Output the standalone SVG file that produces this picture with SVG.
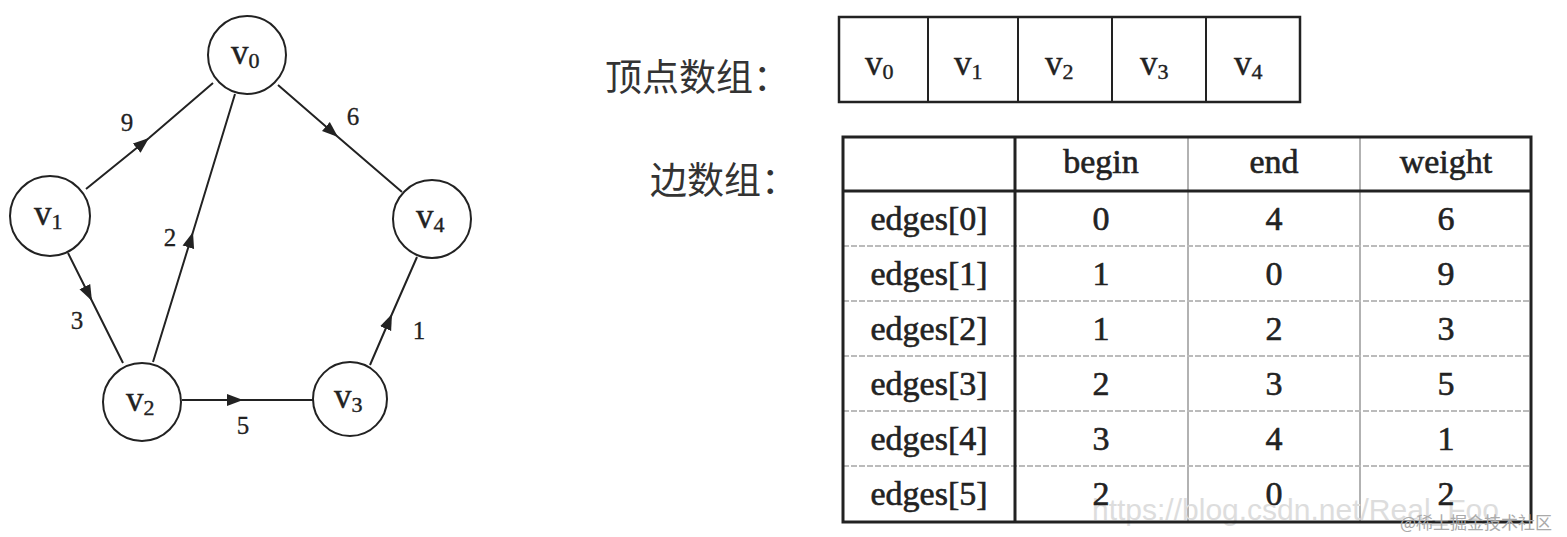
<svg xmlns="http://www.w3.org/2000/svg" width="1567" height="537" viewBox="0 0 1567 537">
<style>
.node circle{fill:#fff;stroke:#222;stroke-width:2}
.vt{font-family:"Liberation Serif","DejaVu Serif",serif;font-size:35px;fill:#222;stroke:#222;stroke-width:0.4}
.sub{font-size:22px}
.edge{fill:none;stroke:#222;stroke-width:2;marker-mid:url(#arr)}
.el{font-family:"Liberation Serif","DejaVu Serif",serif;font-size:25px;fill:#222;text-anchor:middle;stroke:#222;stroke-width:0.3}
.cn{font-family:"Noto Sans CJK SC","Noto Sans",sans-serif;font-size:37px;fill:#333}
.tt{font-family:"Liberation Serif","DejaVu Serif",serif;font-size:34px;fill:#222;text-anchor:middle;stroke:#222;stroke-width:0.6}
.thick{stroke:#222;stroke-width:3;fill:none}
.thin{stroke:#999;stroke-width:1.5;fill:none}
.faint{stroke:#bbb;stroke-width:2;stroke-dasharray:6 2;fill:none}
.wm1{font-family:"Liberation Sans",sans-serif;font-size:30px;fill:#ddd}
.wm2{font-family:"Noto Sans CJK SC",sans-serif;font-size:17px;fill:#aaa}
</style>
<defs>
<marker id="arr" markerUnits="userSpaceOnUse" markerWidth="18" markerHeight="14" viewBox="-16 -7 18 14" refX="0" refY="0" orient="auto">
<path d="M0,0 L-16,-6 L-16,6 z" fill="#222"/>
</marker>
</defs>
<rect width="1567" height="537" fill="#fff"/>
<g id="connectors">
<path class="edge" d="M86,189 L149,138 L213,83"/>
<path class="edge" d="M278,85 L338,137 L402,192"/>
<path class="edge" d="M153,362 L193,232 L235,94"/>
<path class="edge" d="M68,253 L92,301 L123,363"/>
<path class="edge" d="M182,400 L243,400 L313,400"/>
<path class="edge" d="M370,365 L392,314 L417,257"/>
<text class="el" x="127" y="131">9</text>
<text class="el" x="353" y="125">6</text>
<text class="el" x="170" y="246">2</text>
<text class="el" x="77" y="329">3</text>
<text class="el" x="243" y="434">5</text>
<text class="el" x="419" y="339">1</text>
</g>
<g id="v0" class="node"><circle cx="247" cy="55" r="39"/><text class="vt" x="231" y="64">v<tspan class="sub" dy="4">0</tspan></text></g>
<g id="v1" class="node"><circle cx="50" cy="216" r="40"/><text class="vt" x="34" y="225">v<tspan class="sub" dy="4">1</tspan></text></g>
<g id="v2" class="node"><circle cx="142" cy="402" r="39"/><text class="vt" x="126" y="411">v<tspan class="sub" dy="4">2</tspan></text></g>
<g id="v3" class="node"><circle cx="350" cy="399" r="37"/><text class="vt" x="334" y="408">v<tspan class="sub" dy="4">3</tspan></text></g>
<g id="v4" class="node"><circle cx="432" cy="219" r="39"/><text class="vt" x="416" y="228">v<tspan class="sub" dy="4">4</tspan></text></g>
<g id="vertex-array">
<text class="cn" x="605" y="91">顶点数组：</text>
<rect x="839" y="17" width="461" height="85" fill="none" stroke="#222" stroke-width="2.5"/>
<line class="thick" x1="928" y1="17" x2="928" y2="102" style="stroke-width:2"/>
<line class="thick" x1="1018" y1="17" x2="1018" y2="102" style="stroke-width:2"/>
<line class="thick" x1="1112" y1="17" x2="1112" y2="102" style="stroke-width:2"/>
<line class="thick" x1="1206" y1="17" x2="1206" y2="102" style="stroke-width:2"/>
<text class="vt" x="865" y="75">v<tspan class="sub" dy="4">0</tspan></text>
<text class="vt" x="954" y="75">v<tspan class="sub" dy="4">1</tspan></text>
<text class="vt" x="1045" y="75">v<tspan class="sub" dy="4">2</tspan></text>
<text class="vt" x="1140" y="75">v<tspan class="sub" dy="4">3</tspan></text>
<text class="vt" x="1234" y="75">v<tspan class="sub" dy="4">4</tspan></text>
</g>
<g id="edge-array">
<text class="cn" x="650" y="194">边数组：</text>
<line class="thin" x1="1188" y1="137" x2="1188" y2="522"/>
<line class="thin" x1="1360" y1="137" x2="1360" y2="522"/>
<line class="faint" x1="843" y1="246" x2="1530" y2="246"/>
<line class="faint" x1="843" y1="301" x2="1530" y2="301"/>
<line class="faint" x1="843" y1="356" x2="1530" y2="356"/>
<line class="faint" x1="843" y1="411" x2="1530" y2="411"/>
<line class="faint" x1="843" y1="466" x2="1530" y2="466"/>
<text class="wm1" x="1092" y="520">https://blog.csdn.net/Real_Foo</text>
<rect class="thick" x="843" y="137" width="688" height="385"/>
<line class="thick" x1="843" y1="191" x2="1531" y2="191"/>
<line class="thick" x1="1015" y1="137" x2="1015" y2="522"/>
<text class="tt" x="1101" y="173">begin</text>
<text class="tt" x="1274" y="173">end</text>
<text class="tt" x="1446" y="173">weight</text>
<text class="tt" x="929" y="230">edges[0]</text><text class="tt" x="1101" y="230">0</text><text class="tt" x="1274" y="230">4</text><text class="tt" x="1446" y="230">6</text>
<text class="tt" x="929" y="285">edges[1]</text><text class="tt" x="1101" y="285">1</text><text class="tt" x="1274" y="285">0</text><text class="tt" x="1446" y="285">9</text>
<text class="tt" x="929" y="340">edges[2]</text><text class="tt" x="1101" y="340">1</text><text class="tt" x="1274" y="340">2</text><text class="tt" x="1446" y="340">3</text>
<text class="tt" x="929" y="395">edges[3]</text><text class="tt" x="1101" y="395">2</text><text class="tt" x="1274" y="395">3</text><text class="tt" x="1446" y="395">5</text>
<text class="tt" x="929" y="450">edges[4]</text><text class="tt" x="1101" y="450">3</text><text class="tt" x="1274" y="450">4</text><text class="tt" x="1446" y="450">1</text>
<text class="tt" x="929" y="505">edges[5]</text><text class="tt" x="1101" y="505">2</text><text class="tt" x="1274" y="505">0</text><text class="tt" x="1446" y="505">2</text>
</g>
<g id="watermark">
<text class="wm2" x="1400" y="529">@稀土掘金技术社区</text>
</g>
</svg>
